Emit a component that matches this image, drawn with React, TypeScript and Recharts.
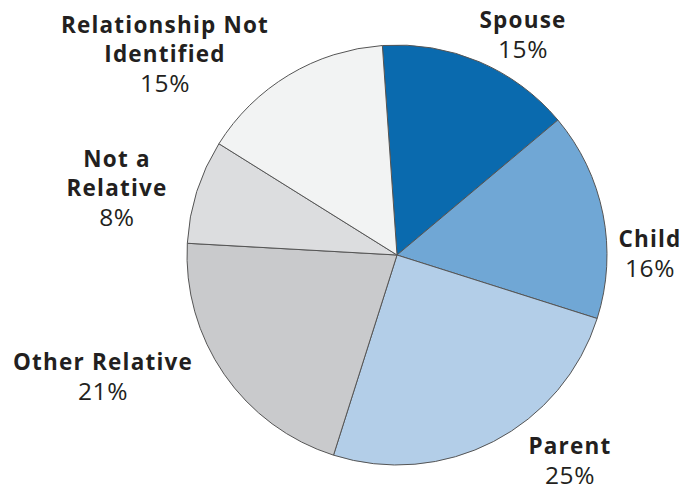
import React from "react";
import { PieChart, Pie, Cell } from "recharts";

const categories = ["Spouse", "Child", "Parent", "Other Relative", "Not a Relative", "Relationship Not Identified"];
const values = [15, 16, 25, 21, 8, 15];
const labelLines = [["Spouse"], ["Child"], ["Parent"], ["Other Relative"], ["Not a", "Relative"], ["Relationship Not", "Identified"]];
const colors = ["#0a6aae", "#70a7d5", "#b3cee8", "#c9cacc", "#dcdddf", "#f2f3f3"];

// label anchor offsets relative to pie centre (layout only)
const labelOffsets = [
  { dx: 126, dy: -227 },
  { dx: 253, dy: -8 },
  { dx: 173, dy: 199 },
  { dx: -294, dy: 115 },
  { dx: -280, dy: -88 },
  { dx: -232, dy: -222 },
];

const data = categories.map((name, i) => ({ name, value: values[i] }));
const total = values.reduce((a, b) => a + b, 0);

const FONT = "'Open Sans', 'DejaVu Sans', sans-serif";

const renderLabel = (props: any) => {
  const { cx, cy, index } = props;
  const off = labelOffsets[index];
  const x = cx + off.dx;
  const y = cy + off.dy;
  const lines = labelLines[index];
  const pct = Math.round((values[index] / total) * 100) + "%";
  const lh = 29;
  return (
    <text x={x} y={y} textAnchor="middle" fill="#231f20" fontFamily={FONT}>
      {lines.map((l, i) => (
        <tspan key={i} x={x} y={y + i * lh} fontWeight={700} fontSize={22.5} letterSpacing={1.2}>
          {l}
        </tspan>
      ))}
      <tspan x={x} y={y + (lines.length - 1) * lh + 29.5} fontWeight={400} fontSize={24.5} letterSpacing={0.6}>
        {pct}
      </tspan>
    </text>
  );
};

export default function App() {
  return (
    <div style={{ position: "absolute", left: 0, top: 0, background: "#fff" }}>
      <PieChart width={686} height={485} margin={{ top: 0, right: 0, bottom: 0, left: 0 }}>
        <Pie
          data={data}
          dataKey="value"
          nameKey="name"
          cx={397}
          cy={255}
          outerRadius={210}
          startAngle={94}
          endAngle={-266}
          stroke="#555"
          strokeWidth={1}
          label={renderLabel}
          labelLine={false}
          isAnimationActive={false}
        >
          {data.map((d, i) => (
            <Cell key={d.name} fill={colors[i]} />
          ))}
        </Pie>
      </PieChart>
    </div>
  );
}
